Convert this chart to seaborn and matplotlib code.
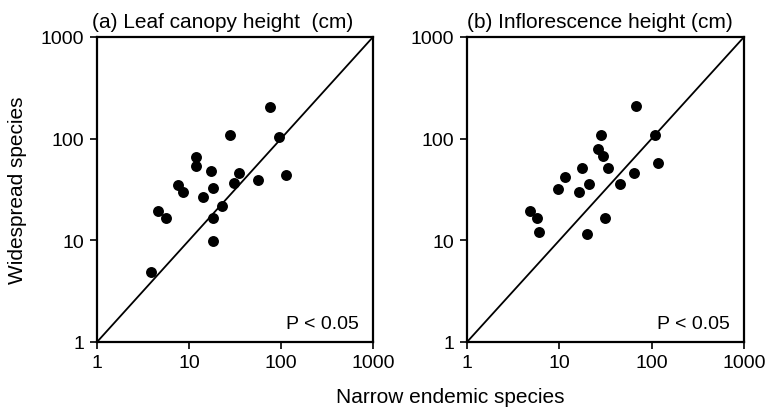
import matplotlib
matplotlib.use("Agg")
import matplotlib.pyplot as plt
import seaborn as sns
import pandas as pd
from matplotlib.ticker import FixedLocator, FixedFormatter, NullLocator

# Panel (a): Leaf canopy height (cm)
leaf_endemic = [3.9, 4.6, 5.6, 7.5, 8.5, 12, 12, 14.3, 17.2, 18.2, 18.2, 18.2, 23, 27.7, 31, 35, 56, 75, 95, 114]
leaf_widespread = [4.85, 19.5, 16.6, 35, 29.8, 66.6, 54, 26.8, 48.2, 33, 16.6, 9.8, 21.7, 109, 37, 45.7, 39, 207, 103, 43.8]

# Panel (b): Inflorescence height (cm)
infl_endemic = [4.78, 5.74, 6.0, 9.7, 11.6, 16.5, 17.7, 19.7, 21, 26.3, 28.1, 30, 31.3, 33.5, 45.6, 64, 68.5, 110, 118]
infl_widespread = [19.6, 16.6, 12.2, 31.8, 41.7, 30.1, 51.4, 11.5, 35.6, 79.8, 108.6, 67.6, 16.7, 51.4, 35.6, 46.3, 208, 109, 58]

ticks = [1, 10, 100, 1000]
tick_labels = ["1", "10", "100", "1000"]
titles = ["(a) Leaf canopy height  (cm)", "(b) Inflorescence height (cm)"]
p_text = "P < 0.05"

sns.set_theme(style="white")
plt.rcParams['font.family'] = ['Liberation Sans', 'DejaVu Sans']

fig = plt.figure(figsize=(7.71, 4.14), dpi=100)
ax_a = fig.add_axes([97/771, 1-343/414, 276/771, 305/414])
ax_b = fig.add_axes([467/771, 1-343/414, 277/771, 305/414])

panels = [
    (ax_a, leaf_endemic, leaf_widespread, titles[0], -0.018),
    (ax_b, infl_endemic, infl_widespread, titles[1], 0.0),
]

for ax, xs, ys, title, tx in panels:
    df = pd.DataFrame({"x": xs, "y": ys})
    ax.set_xscale("log")
    ax.set_yscale("log")
    ax.plot([1, 1000], [1, 1000], color="black", lw=1.3, zorder=2)
    sns.scatterplot(data=df, x="x", y="y", ax=ax, color="black", s=62,
                    edgecolor="black", linewidth=0, zorder=3)
    ax.set_xlim(1, 1000)
    ax.set_ylim(1, 1000)
    ax.xaxis.set_major_locator(FixedLocator(ticks))
    ax.xaxis.set_major_formatter(FixedFormatter(tick_labels))
    ax.yaxis.set_major_locator(FixedLocator(ticks))
    ax.yaxis.set_major_formatter(FixedFormatter(tick_labels))
    ax.xaxis.set_minor_locator(NullLocator())
    ax.yaxis.set_minor_locator(NullLocator())
    ax.tick_params(axis="both", which="major", direction="out", length=5, width=1.2,
                   color="black", labelsize=14, pad=4, bottom=True, left=True,
                   labelcolor="black")
    ax.set_xlabel("")
    ax.set_ylabel("")
    for sp in ax.spines.values():
        sp.set_visible(True)
        sp.set_color("black")
        sp.set_linewidth(1.6)
    ax.text(tx, 1.02, title, transform=ax.transAxes, fontsize=15,
            ha="left", va="bottom", color="black")
    ax.text(0.949, 0.033, p_text, transform=ax.transAxes, fontsize=14,
            ha="right", va="bottom", color="black")

fig.text(18/771, 1-190/414, "Widespread species", rotation=90, fontsize=15,
         ha="center", va="center", color="black")
fig.text(450/771, 1-398/414, "Narrow endemic species", fontsize=15,
         ha="center", va="center", color="black")

fig.savefig("out.png", dpi=100, facecolor="white")
